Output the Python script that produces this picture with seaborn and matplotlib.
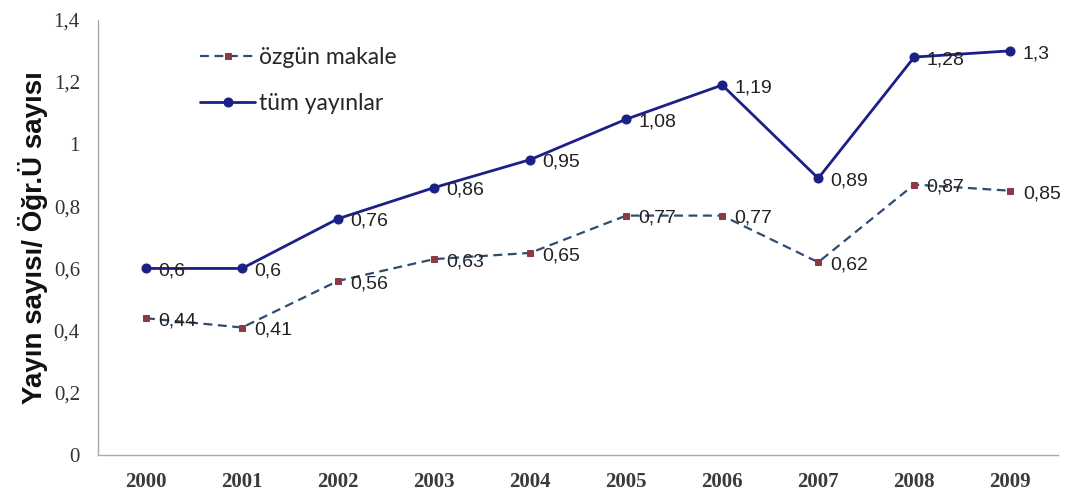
import numpy as np
import pandas as pd
import matplotlib
matplotlib.use("Agg")
import matplotlib.pyplot as plt
import seaborn as sns

# Veriler
years = [2000, 2001, 2002, 2003, 2004, 2005, 2006, 2007, 2008, 2009]
ozgun_makale = [0.44, 0.41, 0.56, 0.63, 0.65, 0.77, 0.77, 0.62, 0.87, 0.85]
tum_yayinlar = [0.6, 0.6, 0.76, 0.86, 0.95, 1.08, 1.19, 0.89, 1.28, 1.3]
y_ticks = [0, 0.2, 0.4, 0.6, 0.8, 1.0, 1.2, 1.4]

sns.set_theme(style="white")
plt.rcParams['font.family'] = ['Liberation Sans', 'DejaVu Sans']

df = pd.DataFrame({"yil": years, "ozgun": ozgun_makale, "tum": tum_yayinlar})

fig = plt.figure(figsize=(10.73, 4.94), dpi=100)
ax = fig.add_axes([0.0913, 0.079, 0.895, 0.881])

sns.lineplot(data=df, x="yil", y="ozgun", ax=ax, color="#2F4B6E", linestyle=(0, (4, 2.5)),
             linewidth=1.6, marker="s", markersize=4.5, markerfacecolor="#8E3A46",
             markeredgecolor="#8E3A46", label="özgün makale")
sns.lineplot(data=df, x="yil", y="tum", ax=ax, color="#1C1F86", linewidth=2,
             marker="o", markersize=6.5, markerfacecolor="#1C1F86",
             markeredgecolor="#1C1F86", label="tüm yayınlar")

def fmt(v):
    return ("%g" % v).replace(".", ",")

for x, v in zip(years, ozgun_makale):
    ax.annotate(fmt(v), (x, v), xytext=(9, -2), textcoords="offset points",
                fontsize=14, color="#222222", va="center", ha="left")
for x, v in zip(years, tum_yayinlar):
    ax.annotate(fmt(v), (x, v), xytext=(9, -2), textcoords="offset points",
                fontsize=14, color="#222222", va="center", ha="left")

ax.set_xlim(1999.5, 2009.5)
ax.set_ylim(0, 1.4)
ax.set_xticks(years)
ax.set_xticklabels([str(y) for y in years], family="Liberation Serif",
                   fontsize=15, fontweight="bold", color="#3A3A3A")
ax.set_yticks(y_ticks)
ax.set_yticklabels([fmt(t) for t in y_ticks], family="Liberation Serif",
                   fontsize=15, color="#333333")
ax.tick_params(axis="x", pad=12, length=0)
ax.tick_params(axis="y", pad=13, length=0)
ax.set_xlabel("")
ax.set_ylabel("Yayın sayısı/ Öğr.Ü sayısı", fontsize=20, fontweight="bold",
              labelpad=4, color="#111111")

for s in ["top", "right"]:
    ax.spines[s].set_visible(False)
for s in ["left", "bottom"]:
    ax.spines[s].set_color("#AAAAAA")
    ax.spines[s].set_linewidth(1)

ax.legend(loc="upper left", bbox_to_anchor=(0.085, 0.985), frameon=False,
          handlelength=2.4, handletextpad=0.15, labelspacing=1.1,
          prop={"family": ["Lato", "DejaVu Sans"], "size": 16.5})

fig.savefig("out.png", dpi=100)
plt.close(fig)
